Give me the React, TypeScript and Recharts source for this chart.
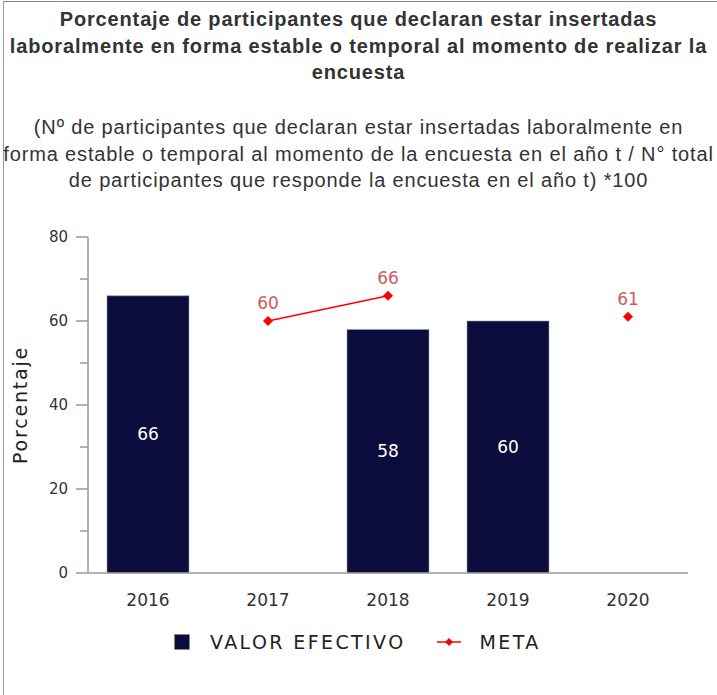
import React from "react";
import { ComposedChart, Bar, Line, XAxis, YAxis, Legend, LabelList } from "recharts";

const years = ["2016", "2017", "2018", "2019", "2020"];
const valorEfectivo: (number | null)[] = [66, null, 58, 60, null];
const meta: (number | null)[] = [null, 60, 66, null, 61];
const yTicks = [0, 10, 20, 30, 40, 50, 60, 70, 80];
const titleLines = [
  "Porcentaje de participantes que declaran estar insertadas",
  "laboralmente en forma estable o temporal al momento de realizar la",
  "encuesta",
];
const subtitleLines = [
  "(Nº de participantes que declaran estar insertadas laboralmente en",
  "forma estable o temporal al momento de la encuesta en el año t / N° total",
  "de participantes que responde la encuesta en el año t) *100",
];

const data = years.map((y, i) => ({ year: y, valor: valorEfectivo[i], meta: meta[i] }));

const FONT = "'DejaVu Sans', sans-serif";

const YTick = (props: any) => {
  const { x, y, payload } = props;
  const ax = x + 8;
  const major = payload.value % 20 === 0;
  return (
    <g>
      <line x1={ax - (major ? 12 : 8)} x2={ax} y1={y} y2={y} stroke="#999" strokeWidth={1.5} />
      {major && (
        <text x={ax - 20} y={y} dy={5} textAnchor="end" fontSize={15} fontFamily={FONT} fill="#333">
          {payload.value}
        </text>
      )}
    </g>
  );
};

const Diamond = (props: any) => {
  const { cx, cy, value } = props;
  if (value == null || cx == null || cy == null) return null;
  const r = 4.5;
  return (
    <polygon
      points={`${cx},${cy - r} ${cx + r},${cy} ${cx},${cy + r} ${cx - r},${cy}`}
      fill="#ff0000"
      stroke="#ff0000"
    />
  );
};

const LegendContent = () => (
  <div
    style={{
      display: "flex",
      alignItems: "center",
      fontFamily: FONT,
      fontSize: 19,
      letterSpacing: 2.4,
      color: "#222",
      whiteSpace: "nowrap",
    }}
  >
    <svg width={16} height={16} style={{ marginRight: 20 }}>
      <rect x={0.5} y={0.5} width={15} height={15} fill="#0b0c3b" stroke="#888" strokeWidth={0.5} />
    </svg>
    <span style={{ marginRight: 31 }}>VALOR EFECTIVO</span>
    <svg width={24} height={12} style={{ marginRight: 19 }}>
      <line x1={0} x2={24} y1={6} y2={6} stroke="#ff0000" strokeWidth={1.5} />
      <polygon points="12,2 16,6 12,10 8,6" fill="#ff0000" />
    </svg>
    <span>META</span>
  </div>
);

export default function App() {
  return (
    <div style={{ position: "absolute", top: 0, left: 0, width: 717, height: 695, background: "#fff", overflow: "hidden" }}>
      <div style={{ position: "absolute", top: 1, left: 3, width: 714, height: 694, borderTop: "1.5px solid #888", borderLeft: "1.5px solid #999" }} />
      <div
        style={{
          position: "absolute",
          top: 6,
          left: 0,
          width: 717,
          textAlign: "center",
          fontFamily: "'Liberation Sans', Arial, sans-serif",
          fontWeight: "bold",
          fontSize: 20,
          letterSpacing: 0.85,
          lineHeight: "26.5px",
          color: "#333",
          whiteSpace: "nowrap",
        }}
      >
        {titleLines.map((l, i) => (
          <div key={i}>{l}</div>
        ))}
      </div>
      <div
        style={{
          position: "absolute",
          top: 114,
          left: 0,
          width: 717,
          textAlign: "center",
          fontFamily: "'Liberation Sans', Arial, sans-serif",
          fontSize: 20,
          letterSpacing: 0.85,
          lineHeight: "26.5px",
          color: "#333",
          whiteSpace: "nowrap",
        }}
      >
        {subtitleLines.map((l, i) => (
          <div key={i}>{l}</div>
        ))}
      </div>
      <div style={{ position: "absolute", top: 0, left: 0 }}>
        <ComposedChart
          width={717}
          height={695}
          data={data}
          margin={{ top: 237, right: 29, bottom: 70, left: 0 }}
          barCategoryGap={19}
        >
          <XAxis
            dataKey="year"
            axisLine={{ stroke: "#999", strokeWidth: 1.5 }}
            tickLine={false}
            tick={{ fontSize: 17, fontFamily: FONT, fill: "#333" }}
            dy={13}
            height={30}
          />
          <YAxis
            width={88}
            domain={[0, 80]}
            ticks={yTicks}
            interval={0}
            axisLine={{ stroke: "#999", strokeWidth: 1.5 }}
            tickLine={false}
            tick={<YTick />}
            label={{
              value: "Porcentaje",
              angle: -90,
              position: "insideLeft",
              offset: 20,
              style: { textAnchor: "middle", fontSize: 19, letterSpacing: 1.8, fontFamily: FONT, fill: "#222" },
            }}
          />
          <Legend
            content={<LegendContent />}
            wrapperStyle={{ position: "absolute", top: 631, left: 174, width: "auto" }}
          />
          <Bar dataKey="valor" name="VALOR EFECTIVO" fill="#0b0c3b" stroke="#9a9ab0" strokeWidth={0.6} isAnimationActive={false}>
            <LabelList dataKey="valor" position="center" fill="#ffffff" fontSize={17} fontFamily={FONT} />
          </Bar>
          <Line
            dataKey="meta"
            name="META"
            stroke="#ff0000"
            strokeWidth={1.5}
            dot={<Diamond />}
            activeDot={false}
            connectNulls={false}
            isAnimationActive={false}
          >
            <LabelList dataKey="meta" position="top" offset={12} fill="#d05a5a" fontSize={17} fontFamily={FONT} />
          </Line>
        </ComposedChart>
      </div>
    </div>
  );
}
